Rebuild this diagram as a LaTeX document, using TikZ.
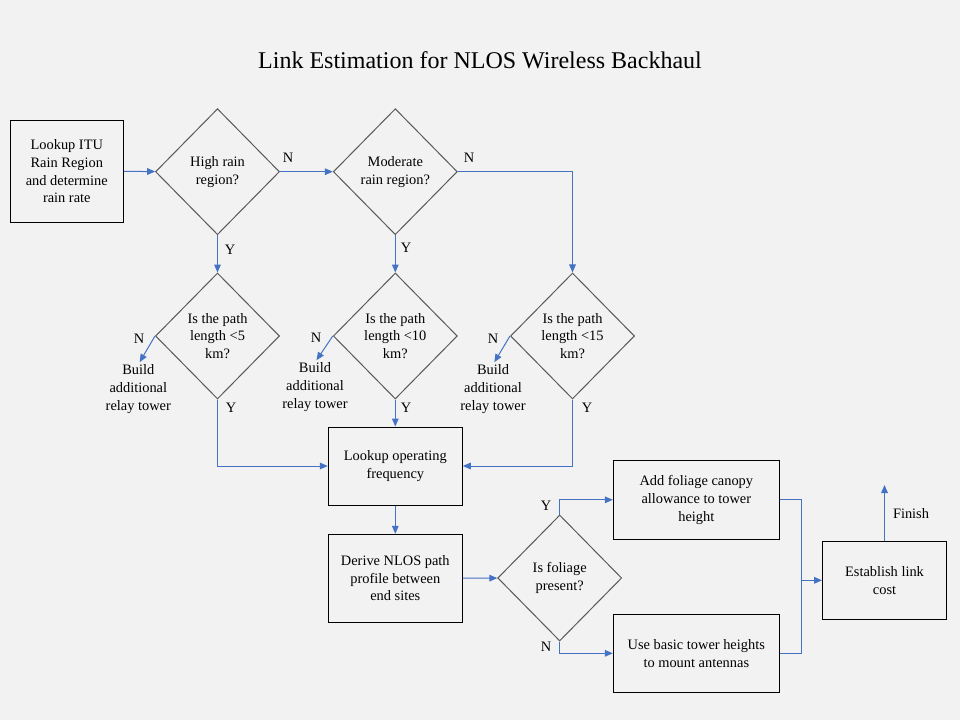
\documentclass[tikz,border=0pt]{standalone}
\usepackage{fontspec}
\setmainfont{Liberation Serif}
\usetikzlibrary{shapes.geometric,arrows.meta}
\definecolor{flowblue}{HTML}{4472C4}
\definecolor{bggray}{HTML}{F2F2F2}
\definecolor{edgegray}{HTML}{595959}
\tikzset{
  box/.style={draw=black,line width=0.75pt,align=center,inner sep=0pt,font=\fontsize{10.8}{13.3}\selectfont},
  decision/.style={diamond,draw=edgegray,line width=0.75pt,align=center,inner sep=0pt,
    minimum width=93pt,minimum height=94.5pt,font=\fontsize{10.8}{13.3}\selectfont},
  flow/.style={draw=flowblue,line width=0.75pt,-{Triangle[length=6pt,width=5pt]}},
  tag/.style={inner sep=0pt,font=\fontsize{10.8}{13.3}\selectfont,align=center}
}

\begin{document}
\begin{tikzpicture}[x=0.75pt,y=-0.75pt]
      \fill[bggray] (0,0) rectangle (960,720);
      \useasboundingbox (0,0) rectangle (960,720);
      \node[font=\fontsize{18}{20}\selectfont] (title) at (480,60) {Link Estimation for NLOS Wireless Backhaul};
      % rain region
      \node[box,minimum width=84.75pt,minimum height=76.5pt] (itu) at (66.8,171.3) {Lookup ITU\\Rain Region\\and determine\\rain rate};
      \node[decision] (high) at (217.5,171.7) {High rain\\region?};
      \node[decision] (moderate) at (395.3,171.7) {Moderate\\rain region?};
      % path length
      \node[decision] (len5) at (217.5,336) {Is the path\\length <5\\km?};
      \node[decision] (len10) at (395.3,336) {Is the path\\length <10\\km?};
      \node[decision] (len15) at (572.5,336) {Is the path\\length <15\\km?};
      \node[tag] (relay5) at (138.3,389) {Build\\additional\\relay tower};
      \node[tag] (relay10) at (315,387) {Build\\additional\\relay tower};
      \node[tag] (relay15) at (493,389) {Build\\additional\\relay tower};
      % frequency and profile
      \node[box,minimum width=100.5pt,minimum height=58.5pt] (freq) at (395.3,466) {Lookup operating\\frequency};
      \node[box,minimum width=100.5pt,minimum height=66pt] (profile) at (395.3,578.3) {Derive NLOS path\\profile between\\end sites};
      \node[decision] (foliage) at (559.7,578) {Is foliage\\present?};
      \node[box,minimum width=124.5pt,minimum height=59.25pt] (canopy) at (696.3,499.8) {Add foliage canopy\\allowance to tower\\height};
      \node[box,minimum width=124.5pt,minimum height=58.5pt] (basic) at (696.3,653.3) {Use basic tower heights\\to mount antennas};
      \node[box,minimum width=93pt,minimum height=58.5pt] (cost) at (884.5,580.3) {Establish link\\cost};
      \coordinate (merge) at (801,580.3);
      \coordinate (finish) at (884.5,485);
      % connectors
      \draw[flow] (itu) -- (high);
      \draw[flow] (high) -- (moderate);
      \draw[flow] (moderate.east) -| (len15.north);
      \draw[flow] (high) -- (len5);
      \draw[flow] (moderate) -- (len10);
      \draw[flow,shorten >=2pt] (len5.west) -- (relay5.north);
      \draw[flow,shorten >=2pt] (len10.west) -- (relay10.north);
      \draw[flow,shorten >=2pt] (len15.west) -- (relay15.north);
      \draw[flow] (len5.south) |- (freq.west);
      \draw[flow] (len10) -- (freq);
      \draw[flow] (len15.south) |- (freq.east);
      \draw[flow] (freq) -- (profile);
      \draw[flow] (profile) -- (foliage);
      \draw[flow] (foliage.north) |- (canopy.west);
      \draw[flow] (foliage.south) |- (basic.west);
      \draw[flow] (canopy.east) -| (merge) -- (cost.west);
      \draw[draw=flowblue,line width=0.75pt] (basic.east) -| (merge);
      \draw[flow] (cost) -- (finish);
      % Y and N
      \node[tag] at (288,158) {N};
      \node[tag] at (469,158) {N};
      \node[tag] at (230,250) {Y};
      \node[tag] at (406,248) {Y};
      \node[tag] at (139,339) {N};
      \node[tag] at (316,338) {N};
      \node[tag] at (493,339) {N};
      \node[tag] at (231,408) {Y};
      \node[tag] at (406,408) {Y};
      \node[tag] at (587,408) {Y};
      \node[tag] at (546,506) {Y};
      \node[tag] at (546,647) {N};
      \node[tag] at (911,514) {Finish};
\end{tikzpicture}
\end{document}
